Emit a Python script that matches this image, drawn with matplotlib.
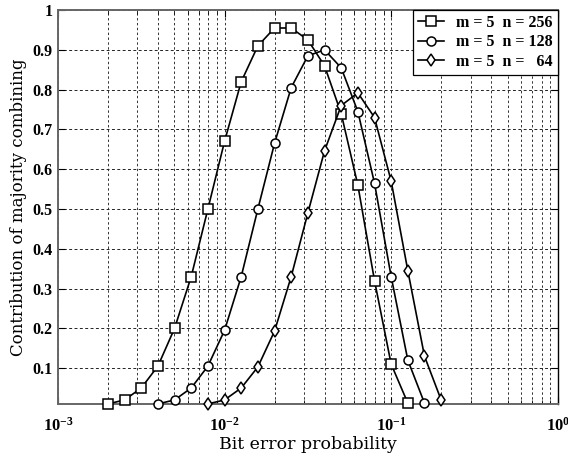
import numpy as np
import matplotlib
matplotlib.use("Agg")
import matplotlib.pyplot as plt
from matplotlib.ticker import FixedLocator, LogLocator, NullFormatter

# ---- data ----
x_exp_256 = [-2.7, -2.6, -2.5, -2.4, -2.3, -2.2, -2.1, -2.0, -1.9, -1.8,
             -1.7, -1.6, -1.5, -1.4, -1.3, -1.2, -1.1, -1.0, -0.9]
y_256 = [0.01, 0.02, 0.05, 0.105, 0.20, 0.33, 0.50, 0.67, 0.82, 0.91,
         0.955, 0.955, 0.925, 0.86, 0.74, 0.56, 0.32, 0.11, 0.012]

x_exp_128 = [-2.4, -2.3, -2.2, -2.1, -2.0, -1.9, -1.8, -1.7, -1.6, -1.5,
             -1.4, -1.3, -1.2, -1.1, -1.0, -0.9, -0.8]
y_128 = [0.01, 0.02, 0.05, 0.105, 0.195, 0.33, 0.50, 0.665, 0.805, 0.885,
         0.90, 0.855, 0.745, 0.565, 0.33, 0.12, 0.012]

x_exp_64 = [-2.1, -2.0, -1.9, -1.8, -1.7, -1.6, -1.5, -1.4, -1.3, -1.2,
            -1.1, -1.0, -0.9, -0.8, -0.7]
y_64 = [0.01, 0.02, 0.05, 0.103, 0.193, 0.33, 0.49, 0.646, 0.76, 0.792,
        0.73, 0.57, 0.345, 0.13, 0.02]

labels = ["m = 5  n = 256", "m = 5  n = 128", "m = 5  n =   64"]
markers = ["s", "o", "d"]

y_ticks = [0.1, 0.2, 0.3, 0.4, 0.5, 0.6, 0.7, 0.8, 0.9, 1.0]
y_ticklabels = ["0.1", "0.2", "0.3", "0.4", "0.5", "0.6", "0.7", "0.8", "0.9", "1"]
x_ticks = [1e-3, 1e-2, 1e-1, 1e0]
x_ticklabels = [r"$\mathbf{10^{-3}}$", r"$\mathbf{10^{-2}}$", r"$\mathbf{10^{-1}}$", r"$\mathbf{10^{0}}$"]

# ---- style ----
plt.rcParams["mathtext.fontset"] = "custom"
plt.rcParams["mathtext.rm"] = "Liberation Serif:bold"
plt.rcParams["mathtext.bf"] = "Liberation Serif:bold"

fig = plt.figure(figsize=(5.68, 4.59), dpi=100)
ax = fig.add_axes([0.102, 0.120, 0.880, 0.858])

series = [(x_exp_256, y_256), (x_exp_128, y_128), (x_exp_64, y_64)]
for (xe, yv), mk, lab in zip(series, markers, labels):
    xv = 10.0 ** np.array(xe)
    ax.plot(xv, yv, color="black", lw=1.2, marker=mk,
            markersize=6.5, markerfacecolor="white",
            markeredgecolor="black", markeredgewidth=1.1, label=lab,
            clip_on=False, zorder=3)

ax.set_xscale("log")
ax.set_xlim(1e-3, 1e0)
ax.set_ylim(0.01, 1.0)

ax.xaxis.set_major_locator(FixedLocator(x_ticks))
ax.set_xticklabels(x_ticklabels)
ax.xaxis.set_minor_locator(LogLocator(base=10, subs=np.arange(2, 10)))
ax.xaxis.set_minor_formatter(NullFormatter())
ax.set_yticks(y_ticks)
ax.set_yticklabels(y_ticklabels)

for lab in ax.get_yticklabels():
    lab.set_fontfamily("Liberation Serif")
    lab.set_fontweight("bold")
    lab.set_fontsize(11.5)
for lab in ax.get_xticklabels():
    lab.set_fontsize(12)

ax.tick_params(which="both", direction="in", top=True, right=True)
ax.tick_params(which="major", length=5, width=0.8, pad=4)
ax.tick_params(which="minor", length=3, width=0.6)
ax.tick_params(axis="x", which="major", pad=9)

ax.grid(True, which="major", axis="y", color="#222222", lw=0.7, linestyle=(0, (3, 2.5)))
ax.grid(True, which="both", axis="x", color="#333333", lw=0.7, linestyle=(0, (2.5, 2.5)))

for s in ax.spines.values():
    s.set_color("#666666")
    s.set_linewidth(1.4)
ax.spines["right"].set_color("black")
ax.spines["right"].set_linewidth(1.0)

ax.set_xlabel("Bit error probability", fontfamily="DejaVu Serif", fontsize=12.5, labelpad=1)
ax.set_ylabel("Contribution of majority combining", fontfamily="DejaVu Serif", fontsize=12, labelpad=4)

leg = ax.legend(loc="upper right", prop={"family": "Liberation Serif", "weight": "bold", "size": 11.5},
                frameon=True, fancybox=False, framealpha=1, edgecolor="black",
                borderaxespad=0.0, handlelength=1.6, handletextpad=0.8,
                labelspacing=0.22, borderpad=0.3)
leg.get_frame().set_linewidth(0.9)
leg.set_zorder(5)

fig.savefig("out.png", dpi=100)
